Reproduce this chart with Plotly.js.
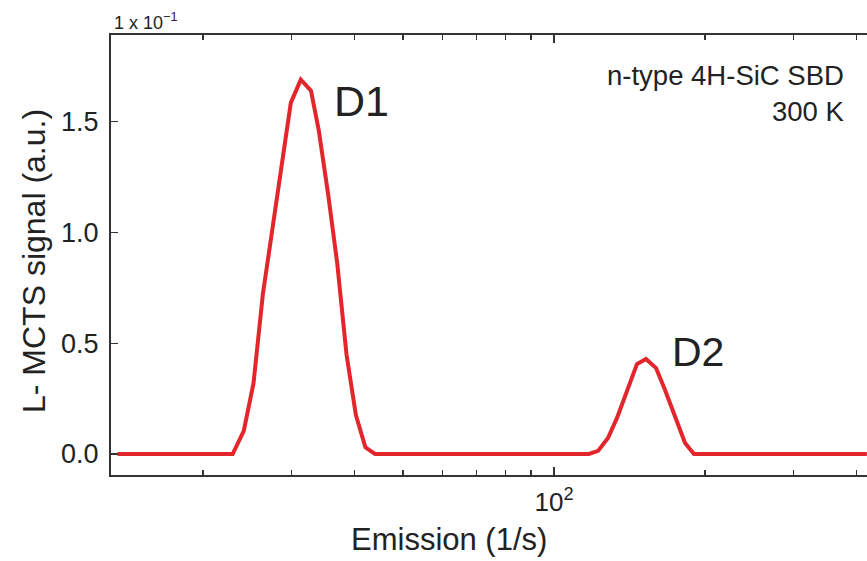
<!DOCTYPE html>
<html>
<head>
<meta charset="utf-8">
<script src="https://cdn.plot.ly/plotly-3.0.1.min.js"></script>
<style>
  html, body { margin: 0; padding: 0; overflow: hidden; background: #ffffff; }
  #chart { width: 900px; height: 561px; }
</style>
</head>
<body>
<div id="chart"></div>
<script>
// Emission rate (1/s), log scale
const emission = [13.5, 22.9, 24.1, 25.2, 26.3, 27.4, 28.7, 29.9, 31.3, 32.8, 34.0, 35.5, 37.0, 38.6, 40.3, 42.1, 44.0,
                  117.4, 122.4, 128.1, 133.5, 139.8, 146.3, 152.5, 159.7, 166.4, 174.2, 182.4, 190.0, 420];
// L-MCTS signal in units of 1e-1 (a.u.)
const signal = [0, 0, 0.105, 0.32, 0.72, 1.00, 1.32, 1.585, 1.69, 1.64, 1.46, 1.17, 0.86, 0.45, 0.176, 0.03, 0,
                0, 0.014, 0.072, 0.163, 0.28, 0.406, 0.429, 0.388, 0.289, 0.167, 0.05, 0, 0];

const xMajorTicks = [100];
const xMajorLabels = ['10<sup>2</sup>'];
const xMinorTicks = [20, 30, 40, 50, 60, 70, 80, 90, 200, 300, 400];
const yTicks = [0, 0.5, 1.0, 1.5];
const yTickLabels = ['0.0', '0.5', '1.0', '1.5'];

const xTitle = 'Emission (1/s)';
const yTitle = 'L- MCTS signal (a.u.)';
const multiplier = '1 x 10<sup>−1</sup>';
const sampleText = 'n-type 4H-SiC SBD<br>300 K';
const peakLabels = ['D1', 'D2'];

const font = 'Arial, "Liberation Sans", Helvetica, sans-serif';
const axisColor = '#333333';

const trace = {
  x: emission, y: signal, type: 'scatter', mode: 'lines',
  line: { color: '#e3262b', width: 4 }, hoverinfo: 'skip'
};

const L = 111, R = 890, T = 35, B = 475, W = 900, H = 561;
const px = v => (v - L) / (R - L);
const py = v => (B - v) / (B - T);

const layout = {
  width: W, height: H,
  margin: { l: L, r: W - R, t: T, b: H - B, pad: 0 },
  paper_bgcolor: '#ffffff', plot_bgcolor: '#ffffff',
  showlegend: false,
  font: { family: font, color: '#222222' },
  xaxis: {
    type: 'log',
    range: [1.1175, 2.6693],
    tickmode: 'array', tickvals: xMajorTicks, ticktext: xMajorLabels,
    ticks: 'inside', ticklen: 8, tickwidth: 1.5, tickcolor: axisColor,
    minor: { tickmode: 'array', tickvals: xMinorTicks, ticks: 'inside', ticklen: 5, tickwidth: 1.5, tickcolor: axisColor, showgrid: false },
    showline: true, linecolor: axisColor, linewidth: 2, mirror: 'ticks',
    showgrid: false, zeroline: false,
    tickfont: { size: 26, family: font, color: '#222' },
    ticklabelstandoff: 3,
    fixedrange: true
  },
  yaxis: {
    range: [-0.0948, 1.8916],
    tickmode: 'array', tickvals: yTicks, ticktext: yTickLabels,
    ticks: 'inside', ticklen: 7, tickwidth: 1.5, tickcolor: axisColor,
    showline: true, linecolor: axisColor, linewidth: 2, mirror: 'ticks',
    showgrid: false, zeroline: false,
    tickfont: { size: 27, family: font, color: '#222' },
    ticklabelstandoff: 5,
    fixedrange: true
  },
  annotations: [
    { text: xTitle, xref: 'paper', yref: 'paper', x: px(449), y: py(539), xanchor: 'center', yanchor: 'middle',
      showarrow: false, font: { size: 31, family: font, color: '#222' } },
    { text: yTitle, xref: 'paper', yref: 'paper', x: px(34), y: py(261), xanchor: 'center', yanchor: 'middle',
      textangle: -90, showarrow: false, font: { size: 32, family: font, color: '#222' } },
    { text: multiplier, xref: 'paper', yref: 'paper', x: px(112), y: py(21), xanchor: 'left', yanchor: 'middle',
      showarrow: false, font: { size: 18, family: font, color: '#222' } },
    { text: sampleText, xref: 'paper', yref: 'paper', x: px(847), y: py(94), xanchor: 'right', yanchor: 'middle',
      align: 'right', showarrow: false, font: { size: 27.5, family: font, color: '#222' } },
    { text: peakLabels[0], xref: 'paper', yref: 'paper', x: px(332), y: py(101), xanchor: 'left', yanchor: 'middle',
      showarrow: false, font: { size: 43, family: font, color: '#222' } },
    { text: peakLabels[1], xref: 'paper', yref: 'paper', x: px(670), y: py(352), xanchor: 'left', yanchor: 'middle',
      showarrow: false, font: { size: 41, family: font, color: '#222' } }
  ]
};

Plotly.newPlot('chart', [trace], layout, { staticPlot: true, displayModeBar: false });
</script>
</body>
</html>
